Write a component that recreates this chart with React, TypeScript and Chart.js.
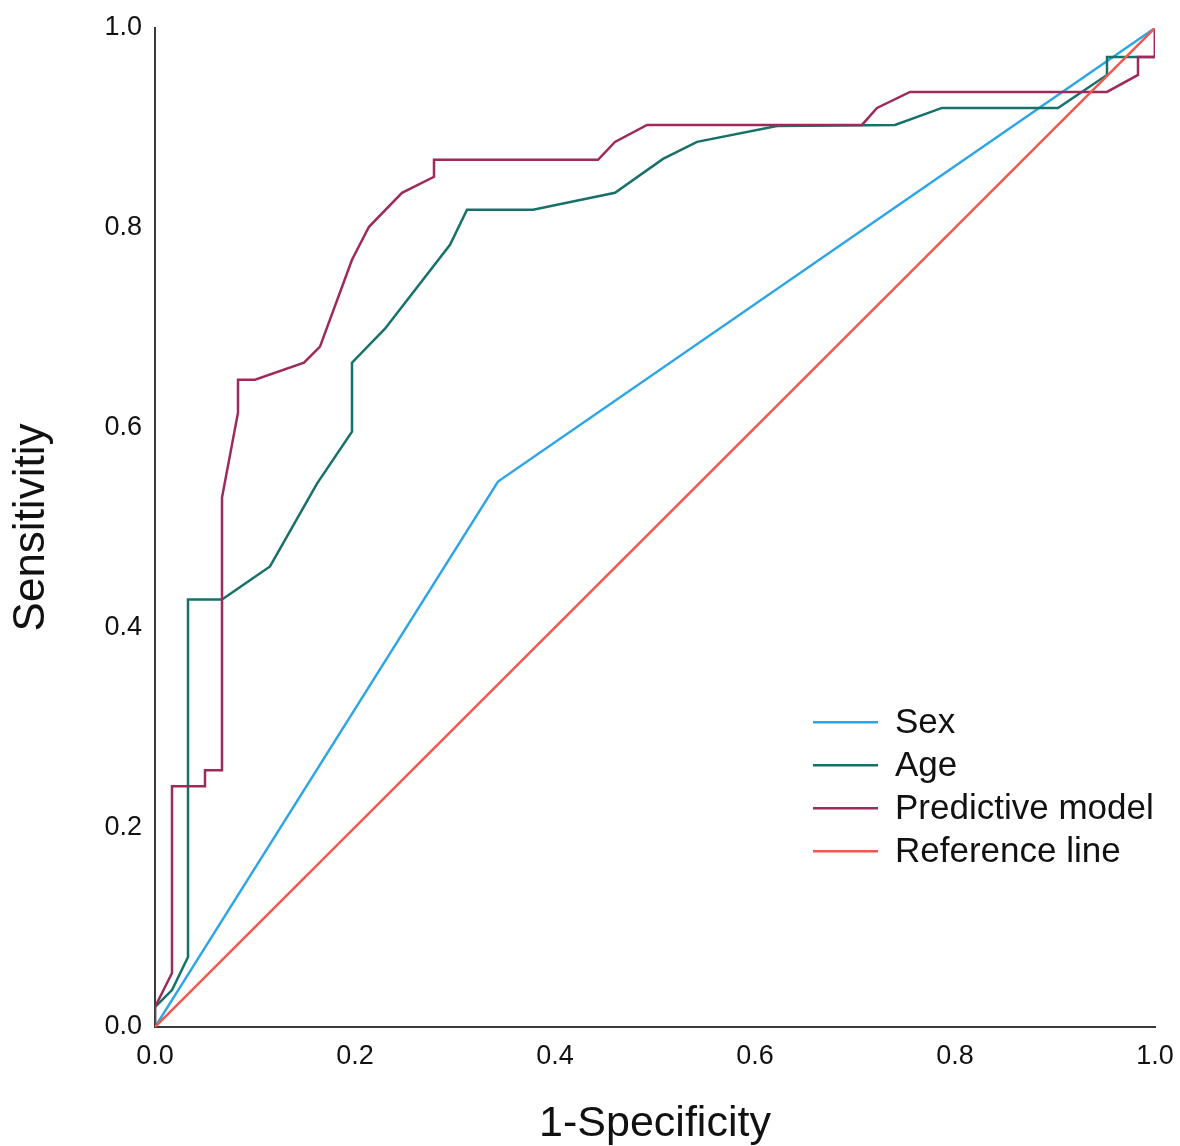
import React, { useEffect, useRef } from "react";
import { Chart, registerables } from "chart.js";

Chart.register(...registerables);

// 1-Specificity / Sensitivity coordinates
const sexX = [0, 0.343, 1];
const sexY = [0, 0.546, 1];

const ageX = [0, 0, 0.017, 0.033, 0.033, 0.067, 0.115, 0.162, 0.197, 0.197, 0.23, 0.295, 0.312, 0.378, 0.46, 0.508, 0.542, 0.622, 0.74, 0.787, 0.903, 0.952, 0.952, 1.0, 1.0];
const ageY = [0, 0.02, 0.037, 0.07, 0.428, 0.428, 0.461, 0.544, 0.596, 0.665, 0.699, 0.783, 0.818, 0.818, 0.835, 0.869, 0.886, 0.902, 0.903, 0.92, 0.92, 0.953, 0.971, 0.971, 1.0];

const modelX = [0, 0, 0.017, 0.017, 0.05, 0.05, 0.067, 0.067, 0.083, 0.083, 0.1, 0.149, 0.165, 0.197, 0.214, 0.247, 0.279, 0.279, 0.443, 0.46, 0.492, 0.707, 0.722, 0.755, 0.952, 0.983, 0.983, 1.0, 1.0];
const modelY = [0, 0.02, 0.054, 0.241, 0.241, 0.257, 0.257, 0.53, 0.615, 0.648, 0.648, 0.665, 0.681, 0.768, 0.801, 0.835, 0.851, 0.868, 0.868, 0.886, 0.903, 0.903, 0.92, 0.936, 0.936, 0.953, 0.971, 0.971, 1.0];

const refX = [0, 1];
const refY = [0, 1];

const seriesNames = ["Sex", "Age", "Predictive model", "Reference line"];
const seriesColors = ["#2ea6e6", "#16716b", "#9e2a5b", "#f4574c"];

const tickValues = [0, 0.2, 0.4, 0.6, 0.8, 1.0];
const xTitle = "1-Specificity";
const yTitle = "Sensitivitiy";

const FONT = "'Liberation Sans', Arial, Helvetica, sans-serif";

const toPoints = (xs: number[], ys: number[]) => xs.map((x, i) => ({ x, y: ys[i] }));

const legendPlugin = {
  id: "insideLegend",
  afterDraw(chart: any) {
    const ctx = chart.ctx;
    const xs = chart.scales.x;
    const ys = chart.scales.y;
    const lineStart = xs.getPixelForValue(0.658);
    const lineEnd = xs.getPixelForValue(0.723);
    const textX = xs.getPixelForValue(0.74);
    const rowTop = ys.getPixelForValue(0.305);
    const rowStep = 43;
    ctx.save();
    ctx.font = `35px ${FONT}`;
    ctx.textBaseline = "middle";
    ctx.textAlign = "left";
    chart.data.datasets.forEach((ds: any, i: number) => {
      const y = rowTop + i * rowStep;
      ctx.strokeStyle = ds.borderColor;
      ctx.lineWidth = 2.5;
      ctx.beginPath();
      ctx.moveTo(lineStart, y);
      ctx.lineTo(lineEnd, y);
      ctx.stroke();
      ctx.fillStyle = "#111";
      ctx.fillText(ds.label, textX, y + 1);
    });
    ctx.restore();
  },
};

export default function App() {
  const ref = useRef<HTMLCanvasElement>(null);

  useEffect(() => {
    if (!ref.current) return;
    const data = [
      toPoints(sexX, sexY),
      toPoints(ageX, ageY),
      toPoints(modelX, modelY),
      toPoints(refX, refY),
    ];
    const chart = new Chart(ref.current, {
      type: "line",
      data: {
        datasets: data.map((pts, i) => ({
          label: seriesNames[i],
          data: pts,
          borderColor: seriesColors[i],
          backgroundColor: seriesColors[i],
          borderWidth: 2.5,
          pointRadius: 0,
          tension: 0,
          fill: false,
          order: 4 - i,
        })),
      },
      options: {
        responsive: false,
        animation: false,
        events: [],
        layout: { padding: { top: 28, right: 25, left: 0, bottom: 0 } },
        plugins: {
          legend: { display: false },
          tooltip: { enabled: false },
        },
        scales: {
          x: {
            type: "linear",
            min: 0,
            max: 1,
            afterBuildTicks: (scale: any) => {
              scale.ticks = tickValues.map((v) => ({ value: v }));
            },
            afterFit: (scale: any) => {
              scale.height = 119;
              scale.paddingLeft = 0;
              scale.paddingRight = 0;
            },
            grid: { display: false, drawTicks: false },
            border: { display: true, color: "#3a3a3a", width: 2 },
            ticks: {
              color: "#111",
              padding: 13,
              font: { family: FONT, size: 27 },
              callback: (v: any) => Number(v).toFixed(1),
              maxRotation: 0,
            },
            title: {
              display: true,
              text: xTitle,
              color: "#111",
              font: { family: FONT, size: 43, lineHeight: 1 },
              padding: { top: 0, bottom: 0 },
            },
          },
          y: {
            type: "linear",
            min: 0,
            max: 1,
            afterBuildTicks: (scale: any) => {
              scale.ticks = tickValues.map((v) => ({ value: v }));
            },
            afterFit: (scale: any) => {
              scale.width = 155;
              scale.paddingTop = 0;
              scale.paddingBottom = 0;
            },
            grid: { display: false, drawTicks: false },
            border: { display: true, color: "#3a3a3a", width: 2 },
            ticks: {
              color: "#111",
              padding: 13,
              font: { family: FONT, size: 27 },
              callback: (v: any) => Number(v).toFixed(1),
            },
            title: {
              display: true,
              text: yTitle,
              color: "#111",
              font: { family: FONT, size: 44, lineHeight: 1 },
              padding: { top: 10, bottom: 0 },
            },
          },
        },
      },
      plugins: [legendPlugin],
    });
    return () => chart.destroy();
  }, []);

  return (
    <div style={{ position: "absolute", left: 0, top: 0, width: 1180, height: 1146, background: "#fff" }}>
      <canvas ref={ref} width={1180} height={1146} style={{ display: "block" }} />
    </div>
  );
}
